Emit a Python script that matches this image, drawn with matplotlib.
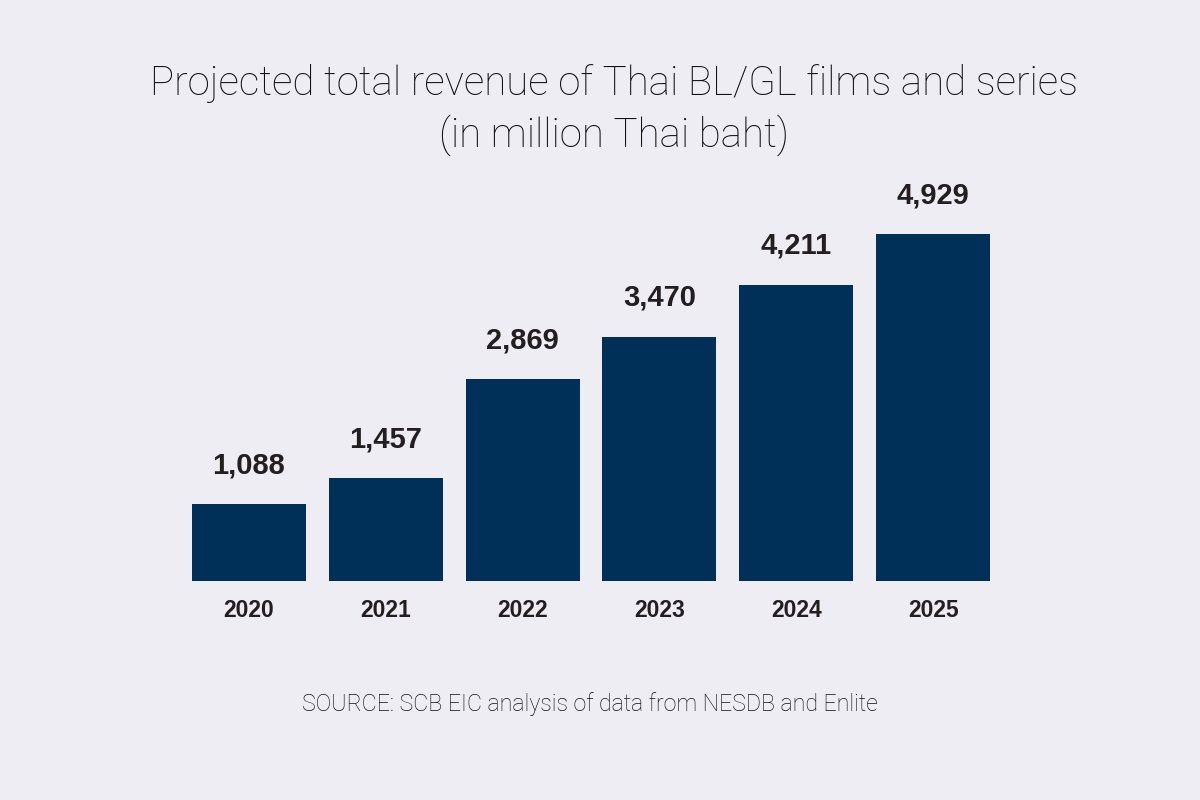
import numpy as np
import matplotlib.pyplot as plt

years = ['2020', '2021', '2022', '2023', '2024', '2025']
revenue = [1088, 1457, 2869, 3470, 4211, 4929]
value_labels = ['1,088', '1,457', '2,869', '3,470', '4,211', '4,929']

bg = '#eeedf4'
bar_color = '#003057'
text_color = '#231f20'

fig = plt.figure(figsize=(12, 8), dpi=100, facecolor=bg)
ax = fig.add_axes([0.1504, 0.27375, 0.6842, 0.53875])
ax.set_facecolor(bg)

x = np.arange(len(years))
ax.bar(x, revenue, width=0.832, color=bar_color)
ax.set_xlim(-0.5, len(years) - 0.5)
ax.set_ylim(0, 6122)

for xi, v, lab in zip(x, revenue, value_labels):
    ax.annotate(lab, (xi, v), xytext=(0, 28), textcoords='offset points',
                ha='center', va='center', fontsize=21, fontweight='bold',
                family='Liberation Sans', color=text_color)

ax.set_xticks(x)
ax.set_xticklabels(years, fontsize=16.5, fontweight='bold', family='Liberation Sans',
                   color=text_color)
ax.tick_params(axis='x', length=0, pad=13)
ax.set_yticks([])
for s in ax.spines.values():
    s.set_visible(False)

fig.text(0.5117, 0.8625, 'Projected total revenue of Thai BL/GL films and series\n(in million Thai baht)',
         ha='center', va='center', fontsize=29, family='Roboto', fontweight='light',
         color='#111111', linespacing=1.33)
fig.text(0.4917, 0.12, 'SOURCE: SCB EIC analysis of data from NESDB and Enlite',
         ha='center', va='center', fontsize=16.7, family='Roboto', fontweight='light',
         color='#111111')

fig.savefig('out.png', dpi=100, facecolor=bg)
